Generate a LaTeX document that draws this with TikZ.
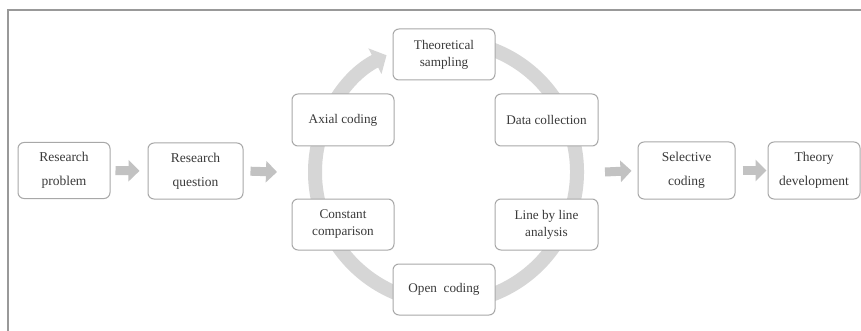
\documentclass[tikz,border=0pt]{standalone}
\usepackage{fontspec}
\setmainfont{Liberation Serif}
\usetikzlibrary{arrows.meta}
\definecolor{boxline}{HTML}{A8A8A8}
\definecolor{txt}{HTML}{3A3A3A}
\definecolor{ringc}{HTML}{D6D6D6}
\definecolor{arrc}{HTML}{C2C2C2}
\begin{document}
\begin{tikzpicture}[x=1pt,y=-1pt,
  stepbox/.style={draw=boxline, line width=1pt, rounded corners=6pt, fill=white,
    align=center, text=txt, inner sep=0pt,
    font=\fontsize{13.5}{24}\selectfont},
  cyclebox/.style={stepbox, font=\fontsize{13.2}{17}\selectfont},
  blockarrow/.style={draw=arrc, line width=9pt, -{Triangle[width=21pt,length=11pt]}},
]
\useasboundingbox (0,0) rectangle (861,331);
\fill[white] (0,0) rectangle (861,331);
\draw[gray!80, line width=1.2pt] (8,331) -- (8,10) -- (861,10);

% ring
\draw[ringc, line width=14pt, -{Triangle[width=28pt,length=13pt]}]
  (446,172) ++(-85:131) arc[start angle=-85, end angle=243, radius=131];

\node[stepbox, minimum width=92pt, minimum height=56pt] (rp) at (64,170.5) {Research\\problem};
\node[stepbox, minimum width=95pt, minimum height=56pt] (rq) at (195.5,171) {Research\\question};
\node[cyclebox, minimum width=102pt, minimum height=51pt] (ts) at (444,54.5) {Theoretical\\sampling};
\node[cyclebox, minimum width=102pt, minimum height=52pt] (ax) at (343,120) {Axial coding};
\node[cyclebox, minimum width=103pt, minimum height=52pt] (dc) at (546.5,120) {Data collection};
\node[cyclebox, minimum width=102pt, minimum height=51pt] (cc) at (343,224.5) {Constant\\comparison};
\node[cyclebox, minimum width=103pt, minimum height=51pt] (lb) at (546.5,224.5) {Line by line\\analysis};
\node[cyclebox, minimum width=102pt, minimum height=51pt] (oc) at (444,289.5) {Open~~coding};
\node[stepbox, minimum width=97pt, minimum height=57pt] (sc) at (686.5,170.5) {Selective\\coding};
\node[stepbox, minimum width=92pt, minimum height=57pt] (td) at (814,170.5) {Theory\\development};

\coordinate (a2end) at (277,172);
\coordinate (a3start) at (605,172);

\draw[blockarrow, shorten <=5pt, shorten >=8pt] (rp.east) -- (rq.west);
\draw[blockarrow, shorten <=7pt] (rq.east) -- (a2end);
\draw[blockarrow, shorten >=6pt] (a3start) -- (sc.west);
\draw[blockarrow, shorten <=7pt, shorten >=1pt] (sc.east) -- (td.west);
\end{tikzpicture}
\end{document}
